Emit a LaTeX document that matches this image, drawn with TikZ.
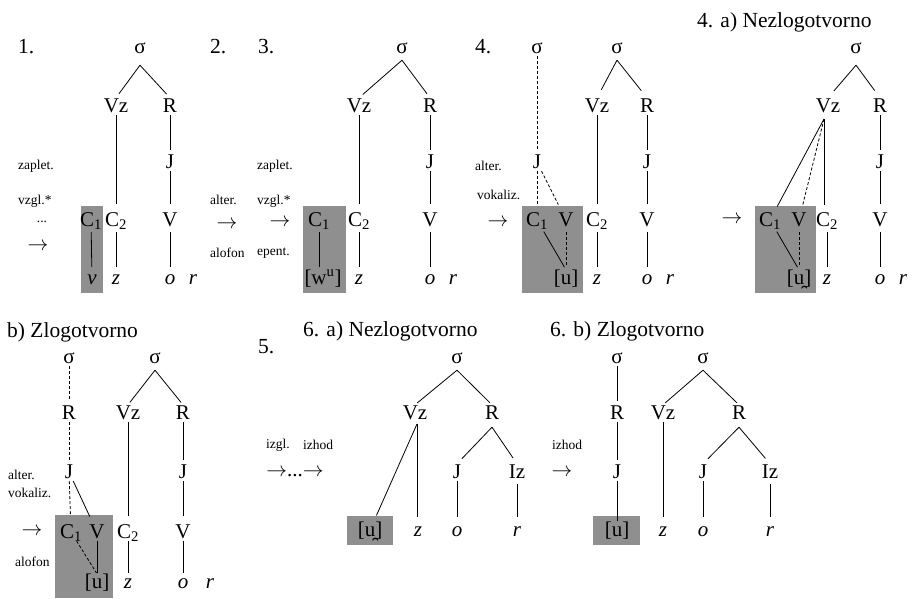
\documentclass[tikz,border=0pt]{standalone}
\usepackage{fontspec}
\setmainfont{Liberation Serif}
\definecolor{boxgray}{RGB}{143,143,143}
\tikzset{
  lab/.style={inner sep=0pt, text height=14pt, text depth=2pt, font=\fontsize{21}{24}\selectfont},
  itl/.style={lab, font=\fontsize{21}{24}\selectfont\itshape},
  sml/.style={inner sep=0pt, anchor=west, font=\fontsize{13.5}{15}\selectfont},
  smc/.style={inner sep=0pt, font=\fontsize{13.5}{15}\selectfont},
  arr/.style={inner sep=0pt, font=\fontsize{21}{24}\selectfont},
  ttl/.style={inner sep=0pt, anchor=west, font=\fontsize{21.5}{24}\selectfont},
  brl/.style={line width=0.8pt, shorten >=5pt},
  stl/.style={line width=0.8pt, shorten <=1pt, shorten >=8pt},
  stj/.style={stl, shorten >=4pt},
  stb/.style={stl, shorten <=4pt, shorten >=3pt},
  dsh/.style={dash pattern=on 3pt off 2pt},
  gbox/.style={fill=boxgray},
}
\begin{document}
\begin{tikzpicture}[x=1pt,y=-1pt]
\useasboundingbox (0,0) rectangle (913,598);
% ---------- gray boxes ----------
\fill[gbox] (81,206) rectangle (103,293);
\fill[gbox] (303,206) rectangle (346,293);
\fill[gbox] (522,206) rectangle (583,293);
\fill[gbox] (755,206) rectangle (816,293);
\fill[gbox] (55,515) rectangle (113,598);
\fill[gbox] (347,516) rectangle (393,545);
\fill[gbox] (593,516) rectangle (640,545);

% ---------- panel 1 ----------
\node[ttl] (n1) at (18,47) {1.};
\node[lab] (a-s) at (140,47) {σ};
\node[lab] (a-vz) at (116,106) {Vz};
\node[lab] (a-r) at (170,106) {R};
\node[lab] (a-j) at (170,162) {J};
\node[lab] (a-c1) at (91,220) {C\textsubscript{1}};
\node[lab] (a-c2) at (116,220) {C\textsubscript{2}};
\node[lab] (a-v) at (170,220) {V};
\node[itl] (a-bv) at (92,278) {v};
\node[itl] (a-bz) at (116,278) {z};
\node[itl] (a-bo) at (170,278) {o};
\node[itl] (a-br) at (193,278) {r};
\draw[brl] ([yshift=-10pt]a-s.south) -- (a-vz.north);
\draw[brl] ([yshift=-10pt]a-s.south) -- (a-r.north);
\draw[stl] (a-vz) -- (a-c2);
\draw[stj] (a-r) -- (a-j);
\draw[stl] (a-j) -- (a-v);
\draw[stb] (a-v) -- (a-bo);
\draw[stb] (a-c1) -- (a-bv);
\draw[stb] (a-c2) -- (a-bz);
\node[sml] (a-l1) at (18,166) {zaplet.};
\node[sml] (a-l2) at (18,201) {vzgl.*};
\node[smc] (a-l3) at (42,222) {...};
\node[arr] (a-l4) at (38,247) {$\rightarrow$};

% ---------- panel 2 ----------
\node[ttl] (n2) at (210,47) {2.};
\node[sml] (b-l1) at (210,200) {alter.};
\node[arr] (b-l2) at (227,225) {$\rightarrow$};
\node[sml] (b-l3) at (210,253) {alofon};

% ---------- panel 3 ----------
\node[ttl] (n3) at (258,47) {3.};
\node[lab] (c-s) at (402,47) {σ};
\node[lab] (c-vz) at (359,106) {Vz};
\node[lab] (c-r) at (430,106) {R};
\node[lab] (c-j) at (430,162) {J};
\node[lab] (c-c1) at (319,220) {C\textsubscript{1}};
\node[lab] (c-c2) at (359,220) {C\textsubscript{2}};
\node[lab] (c-v) at (430,220) {V};
\node[lab] (c-bw) at (323,278) {[w\textsuperscript{u}]};
\node[itl] (c-bz) at (359,278) {z};
\node[itl] (c-bo) at (430,278) {o};
\node[itl] (c-br) at (453,278) {r};
\draw[brl] ([yshift=-5pt]c-s.south) -- (c-vz.north);
\draw[brl] ([yshift=-5pt]c-s.south) -- (c-r.north);
\draw[stl] (c-vz) -- (c-c2);
\draw[stj] (c-r) -- (c-j);
\draw[stl] (c-j) -- (c-v);
\draw[stb] (c-v) -- (c-bo);
\draw[stb] (c-c1) -- (c-c1 |- c-bw.north);
\draw[stb] (c-c2) -- (c-bz);
\node[sml] (c-l1) at (257,166) {zaplet.};
\node[sml] (c-l2) at (257,201) {vzgl.*};
\node[arr] (c-l3) at (280,223) {$\rightarrow$};
\node[sml] (c-l4) at (257,253) {epent.};

% ---------- panel 4 ----------
\node[ttl] (n4) at (475,47) {4.};
\node[lab] (d-s1) at (537,47) {σ};
\node[lab] (d-s2) at (617,47) {σ};
\node[lab] (d-vz) at (597,106) {Vz};
\node[lab] (d-r) at (647,106) {R};
\node[lab] (d-j1) at (537,162) {J};
\node[lab] (d-j2) at (647,162) {J};
\node[lab] (d-c1) at (537,220) {C\textsubscript{1}};
\node[lab] (d-v1) at (566,220) {V};
\node[lab] (d-c2) at (597,220) {C\textsubscript{2}};
\node[lab] (d-v2) at (647,220) {V};
\node[lab] (d-bu) at (566,278) {[u]};
\node[itl] (d-bz) at (597,278) {z};
\node[itl] (d-bo) at (647,278) {o};
\node[itl] (d-br) at (670,278) {r};
\draw[stj,dsh] (d-s1) -- (d-j1);
\draw[stl,dsh] (d-j1) -- (d-c1);
\draw[stl,dsh] (d-j1) -- (d-v1);
\draw[stb] (d-c1) -- (d-bu.north);
\draw[stb,dsh] (d-v1) -- (d-bu);
\draw[brl,shorten >=9pt] ([yshift=-5pt]d-s2.south) -- (d-vz.north);
\draw[brl,shorten >=9pt] ([yshift=-5pt]d-s2.south) -- (d-r.north);
\draw[stl] (d-vz) -- (d-c2);
\draw[stb] (d-c2) -- (d-bz);
\draw[stj] (d-r) -- (d-j2);
\draw[stl] (d-j2) -- (d-v2);
\draw[stb] (d-v2) -- (d-bo);
\node[sml] (d-l1) at (475,166) {alter.};
\node[sml] (d-l2) at (477,195) {vokaliz.};
\node[arr] (d-l3) at (498,223) {$\rightarrow$};

% ---------- panel 4a ----------
\node[ttl] (n4a) at (697,22) {4. a) Nezlogotvorno};
\node[lab] (e-s) at (856,47) {σ};
\node[lab] (e-vz) at (828,106) {Vz};
\node[lab] (e-r) at (880,106) {R};
\node[lab] (e-j) at (880,162) {J};
\node[lab] (e-c1) at (770,220) {C\textsubscript{1}};
\node[lab] (e-v1) at (799,220) {V};
\node[lab] (e-c2) at (827,220) {C\textsubscript{2}};
\node[lab] (e-v2) at (880,220) {V};
\node[lab] (e-bu) at (799,278) {[u̯]};
\node[itl] (e-bz) at (827,278) {z};
\node[itl] (e-bo) at (880,278) {o};
\node[itl] (e-br) at (903,278) {r};
\coordinate (e-vzb) at (824,119);
\draw[brl,shorten >=9pt] ([yshift=-10pt]e-s.south) -- (e-vz.north);
\draw[brl,shorten >=9pt] ([yshift=-10pt]e-s.south) -- (e-r.north);
\draw[line width=0.8pt, shorten >=6pt] (e-vzb) -- (e-c1);
\draw[line width=0.8pt, shorten >=6pt, dsh] (e-vzb) -- (e-v1);
\draw[line width=0.8pt, shorten >=7pt] (e-vzb) -- (e-vzb |- e-c2.north);
\draw[stb] (e-c1) -- (e-bu.north);
\draw[stb,dsh] (e-v1) -- (e-bu);
\draw[stb] (e-c2) -- (e-bz);
\draw[stj] (e-r) -- (e-j);
\draw[stl] (e-j) -- (e-v2);
\draw[stb] (e-v2) -- (e-bo);
\node[arr] (e-l1) at (732,220) {$\rightarrow$};

% ---------- panel b ----------
\node[ttl] (nb) at (7,332) {b) Zlogotvorno};
\node[lab] (f-s1) at (69,357) {σ};
\node[lab] (f-s2) at (155,357) {σ};
\node[lab] (f-r1) at (69,413) {R};
\node[lab] (f-vz) at (128,413) {Vz};
\node[lab] (f-r2) at (183,413) {R};
\node[lab] (f-j1) at (69,472) {J};
\node[lab] (f-j2) at (183,472) {J};
\node[lab] (f-c1) at (71,532) {C\textsubscript{1}};
\node[lab] (f-v1) at (97,532) {V};
\node[lab] (f-c2) at (128,532) {C\textsubscript{2}};
\node[lab] (f-v2) at (183,532) {V};
\node[lab] (f-bu) at (97,582) {[u]};
\node[itl] (f-bz) at (128,582) {z};
\node[itl] (f-bo) at (183,582) {o};
\node[itl] (f-br) at (210,582) {r};
\draw[stj,dsh] (f-s1) -- (f-r1);
\draw[stj,dsh] (f-r1) -- (f-j1);
\draw[stl,dsh] (f-j1) -- (f-c1);
\draw[stl] (f-j1) -- (f-v1);
\draw[stl,shorten >=1pt,dsh] (f-c1) -- (f-bu.north);
\draw[stl,shorten >=1pt] (f-v1) -- (f-bu);
\draw[brl,shorten >=3pt] ([yshift=-5pt]f-s2.south) -- (f-vz.north);
\draw[brl,shorten >=3pt] ([yshift=-5pt]f-s2.south) -- (f-r2.north);
\draw[stl] (f-vz) -- (f-c2);
\draw[stl,shorten >=1pt] (f-c2) -- (f-bz);
\draw[stj] (f-r2) -- (f-j2);
\draw[stl] (f-j2) -- (f-v2);
\draw[stl,shorten >=1pt] (f-v2) -- (f-bo);
\node[sml] (f-l1) at (8,475) {alter.};
\node[sml] (f-l2) at (8,493) {vokaliz.};
\node[arr] (f-l3) at (32,532) {$\rightarrow$};
\node[sml] (f-l4) at (15,562) {alofon};

% ---------- panel 5 ----------
\node[ttl] (n5) at (258,347) {5.};
\node[smc] (g-l1) at (278,445) {izgl.};
\node[smc] (g-l2) at (318,445) {izhod};
\node[arr] (g-l3) at (295,473) {$\rightarrow$...$\rightarrow$};

% ---------- panel 6a ----------
\node[ttl] (n6a) at (303,331) {6. a) Nezlogotvorno};
\node[lab] (h-s) at (457,357) {σ};
\node[lab] (h-vz) at (415,413) {Vz};
\node[lab] (h-r) at (492,413) {R};
\node[lab] (h-j) at (457,472) {J};
\node[lab] (h-iz) at (517,472) {Iz};
\node[lab] (h-bu) at (370,530) {[u̯]};
\node[itl] (h-bz) at (418,530) {z};
\node[itl] (h-bo) at (457,530) {o};
\node[itl] (h-br) at (517,530) {r};
\coordinate (h-vzb) at (417,424);
\draw[brl,shorten >=3pt] ([yshift=-5pt]h-s.south) -- (h-vz.north);
\draw[brl,shorten >=3pt] ([yshift=-5pt]h-s.south) -- (h-r.north);
\draw[line width=0.8pt, shorten >=7pt] (h-vzb) -- (h-bu);
\draw[line width=0.8pt, shorten >=5pt] (h-vzb) -- (h-vzb |- h-bz.north);
\draw[brl,shorten >=7pt] ([yshift=-6pt]h-r.south) -- (h-j.north);
\draw[brl,shorten >=7pt] ([yshift=-6pt]h-r.south) -- (h-iz.north);
\draw[stl,shorten >=5pt] (h-j) -- (h-bo);
\draw[stl,shorten <=4pt,shorten >=5pt] (h-iz) -- (h-br);
\node[smc] (h-l1) at (567,445) {izhod};
\node[arr] (h-l2) at (562,473) {$\rightarrow$};

% ---------- panel 6b ----------
\node[ttl] (n6b) at (550,331) {6. b) Zlogotvorno};
\node[lab] (k-s1) at (617,357) {σ};
\node[lab] (k-s2) at (703,357) {σ};
\node[lab] (k-r1) at (617,413) {R};
\node[lab] (k-vz) at (663,413) {Vz};
\node[lab] (k-r2) at (739,413) {R};
\node[lab] (k-j1) at (617,472) {J};
\node[lab] (k-j2) at (703,472) {J};
\node[lab] (k-iz) at (770,472) {Iz};
\node[lab] (k-bu) at (617,530) {[u]};
\node[itl] (k-bz) at (663,530) {z};
\node[itl] (k-bo) at (703,530) {o};
\node[itl] (k-br) at (770,530) {r};
\draw[stj] (k-s1) -- (k-r1);
\draw[stj] (k-r1) -- (k-j1);
\draw[stl,shorten >=1pt] (k-j1) -- (k-bu);
\draw[brl,shorten >=3pt] ([yshift=-5pt]k-s2.south) -- (k-vz.north);
\draw[brl,shorten >=3pt] ([yshift=-5pt]k-s2.south) -- (k-r2.north);
\draw[stl,shorten >=5pt] (k-vz) -- (k-bz);
\draw[brl,shorten >=7pt] ([yshift=-6pt]k-r2.south) -- (k-j2.north);
\draw[brl,shorten >=7pt] ([yshift=-6pt]k-r2.south) -- (k-iz.north);
\draw[stl,shorten >=5pt] (k-j2) -- (k-bo);
\draw[stl,shorten <=4pt,shorten >=5pt] (k-iz) -- (k-br);
\end{tikzpicture}
\end{document}
